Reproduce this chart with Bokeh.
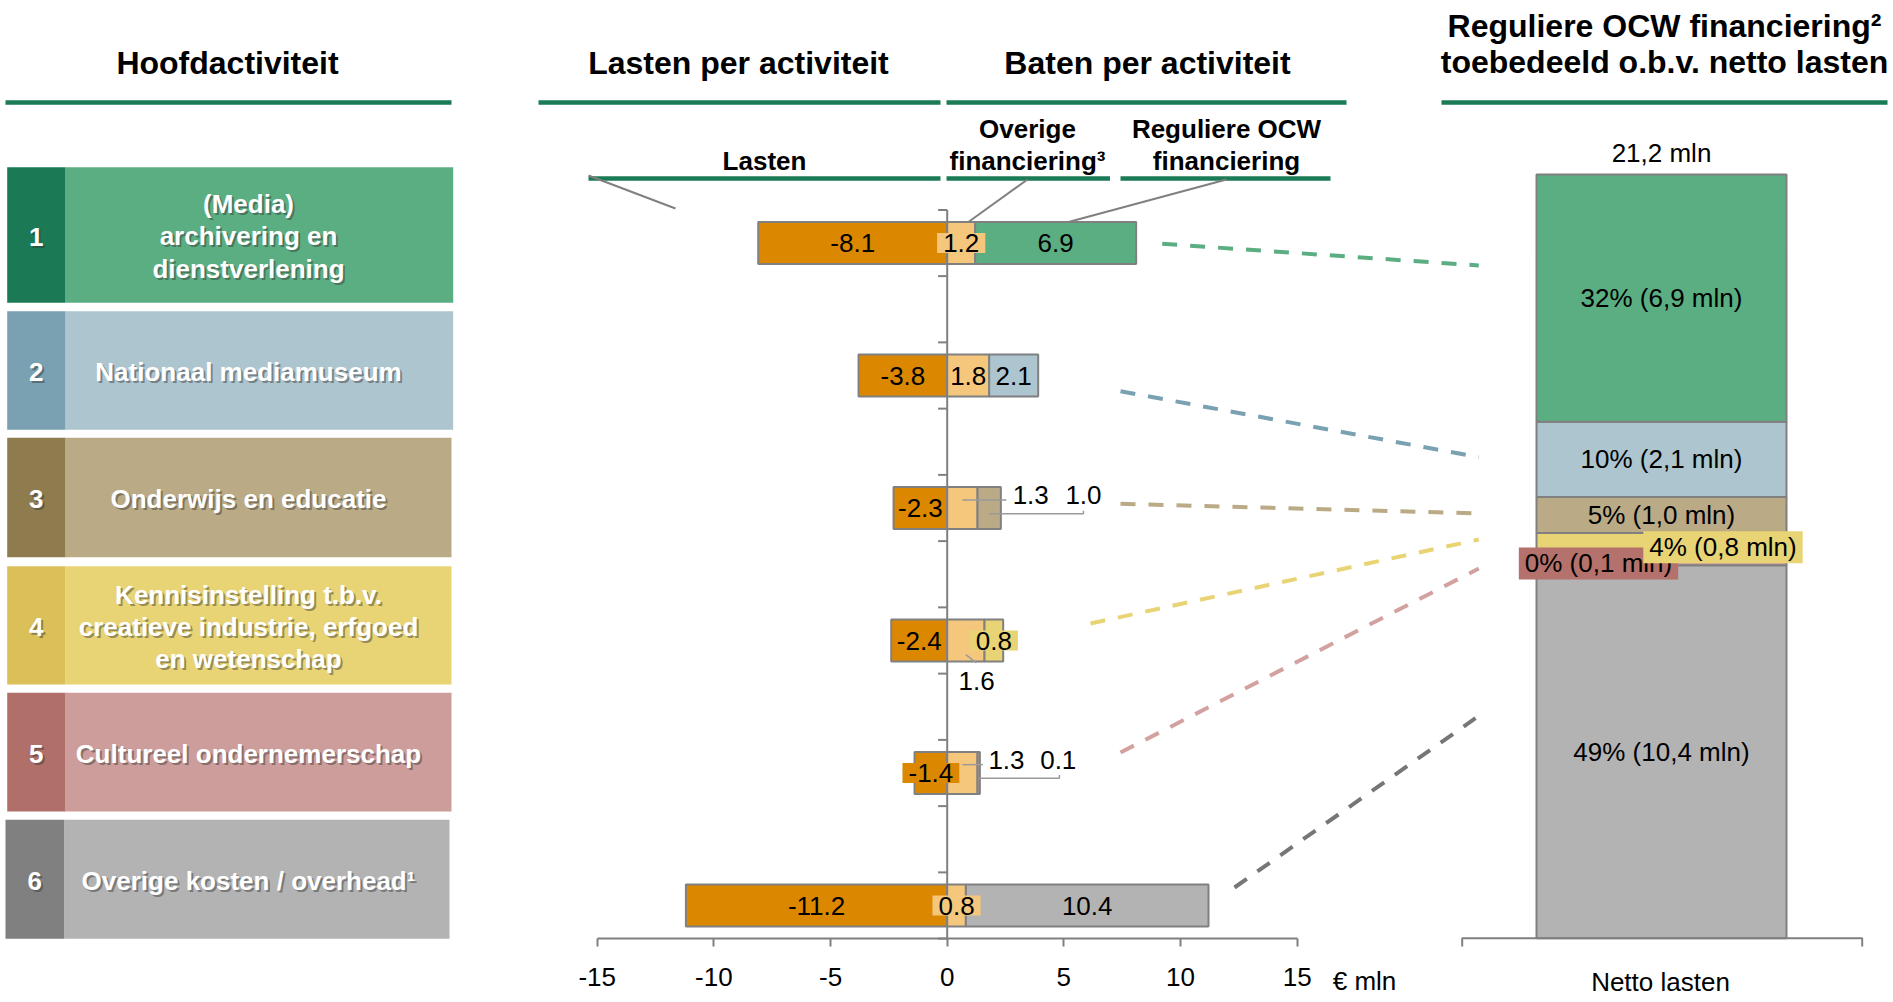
import numpy as np
from bokeh.plotting import figure
from bokeh.models import Range1d, FixedTicker, CustomJSTickFormatter
from bokeh.core.properties import value
from bokeh.embed import file_html
from bokeh.resources import INLINE

# ---------------- data ----------------
activity_nr = ["1", "2", "3", "4", "5", "6"]
activity_names = [
    "(Media)\narchivering en\ndienstverlening",
    "Nationaal mediamuseum",
    "Onderwijs en educatie",
    "Kennisinstelling t.b.v.\ncreatieve industrie, erfgoed\nen wetenschap",
    "Cultureel ondernemerschap",
    "Overige kosten / overhead\u00b9",
]
lasten = [-8.1, -3.8, -2.3, -2.4, -1.4, -11.2]          # Lasten per activiteit
overige_fin = [1.2, 1.8, 1.3, 1.6, 1.3, 0.8]            # Overige financiering
ocw_fin = [6.9, 2.1, 1.0, 0.8, 0.1, 10.4]               # Reguliere OCW financiering
ocw_pct = [32, 10, 5, 4, 0, 49]                         # share of netto lasten
ocw_total_label = "21,2 mln"
x_ticks = [-15, -10, -5, 0, 5, 10, 15]

# ---------------- styles ----------------
FONT = "Liberation Sans"
FV = value(FONT)
GREY = "#808080"
HDR = "#1B7B56"
ORANGE = "#DB8700"
LORANGE = "#F5C77D"
main_col = ["#5BAE82", "#ADC5CE", "#BAAB86", "#E8D475", "#CD9D9B", "#B3B3B3"]
dark_col = ["#1B7A55", "#79A1B1", "#8E7C4F", "#DBBF58", "#B07069", "#808080"]
dash_col = ["#5BAE82", "#79A1B1", "#BAAB86", "#E8D475", "#D3A19F", "#767676"]
PINK_LBL = "#B5716B"

W, H = 1890, 1000
PXU = 23.33                   # px per € mln
X0 = -946.7 / PXU
X1 = X0 + W / PXU
ROW0, ROWSTEP = 242.5, 132.5  # page y of row 1 centre, row spacing
R_TOP = 1 - ROW0 / ROWSTEP
R_BOT = 1 + (H - ROW0) / ROWSTEP
AXIS_Y = 937.7                # page y of the x axis line / stacked bar base
MLNU = 35.86                  # px per mln in the stacked bar

p = figure(width=W, height=H, x_range=Range1d(X0, X1), y_range=Range1d(R_BOT, R_TOP),
           output_backend="svg", toolbar_location=None, y_axis_location=None, title=None,
           min_border_left=0, min_border_right=0, min_border_top=0, min_border_bottom=0)
p.extra_x_ranges = {"px": Range1d(0, W)}
p.extra_y_ranges = {"px": Range1d(H, 0),
                    "mln": Range1d((AXIS_Y - H) / MLNU, AXIS_Y / MLNU)}
p.xgrid.visible = False
p.ygrid.visible = False
p.outline_line_color = None
p.background_fill_color = "white"
p.border_fill_color = "white"

ax = p.xaxis[0]
ax.fixed_location = 1 + (AXIS_Y - ROW0) / ROWSTEP
ax.ticker = FixedTicker(ticks=x_ticks)
ax.formatter = CustomJSTickFormatter(code="return tick.toString()")
ax.bounds = (-15, 15)
ax.axis_line_color = GREY
ax.axis_line_width = 2
ax.major_tick_line_color = GREY
ax.major_tick_line_width = 2
ax.major_tick_in = 0
ax.major_tick_out = 8
ax.minor_tick_line_color = None
ax.major_label_text_font = FONT
ax.major_label_text_font_size = "26px"
ax.major_label_text_color = "black"
ax.major_label_standoff = 22

PX = dict(x_range_name="px", y_range_name="px")


def txt(x, y, t, size="26px", bold=False, color="black", align="center", **kw):
    p.text(x=x, y=y, text=t, text_font=FV, text_font_size=size,
           text_font_style="bold" if bold else "normal", text_color=color,
           text_align=align, text_baseline="middle", **kw)


# ---------------- headers ----------------
txt([227, 738, 1147], [62, 62, 62],
    ["Hoofdactiviteit", "Lasten per activiteit", "Baten per activiteit"], size="32px", bold=True, **PX)
txt([1664, 1664], [25, 61], ["Reguliere OCW financiering\u00b2", "toebedeeld o.b.v. netto lasten"],
    size="32px", bold=True, **PX)
p.segment(x0=[5, 538, 946, 1441], x1=[451, 940, 1346, 1887], y0=[102] * 4, y1=[102] * 4,
          line_color=HDR, line_width=4.5, **PX)

txt([764, 1027, 1027, 1226, 1226], [160, 128, 160, 128, 160],
    ["Lasten", "Overige", "financiering\u00b3", "Reguliere OCW", "financiering"], bold=True, **PX)
p.segment(x0=[588, 946, 1120], x1=[940, 1109.5, 1330], y0=[178] * 3, y1=[178] * 3,
          line_color=HDR, line_width=4.5, **PX)
p.segment(x0=[588, 1027, 1226], y0=[175, 179, 179], x1=[675, 963, 1055], y1=[208, 225, 225],
          line_color=GREY, line_width=2, **PX)

# ---------------- left panel: activity boxes ----------------
box_top = [166.7, 310.7, 437.3, 565.7, 692.3, 819.3]
box_bot = [302.3, 429.3, 556.7, 684.0, 811.0, 938.3]
box_l = [6.7, 6.7, 6.7, 6.7, 6.7, 5.0]
box_m = [65.0, 65.0, 65.0, 65.0, 65.0, 63.7]
box_r = [452.7, 452.7, 451.0, 451.0, 451.0, 449.0]
p.quad(left=box_m, right=box_r, top=box_top, bottom=box_bot, fill_color=main_col, line_color=None, **PX)
p.quad(left=box_l, right=box_m, top=box_top, bottom=box_bot, fill_color=dark_col, line_color=None, **PX)
cy = [(a + b) / 2 + 1.5 for a, b in zip(box_top, box_bot)]
cxn = [(a + b) / 2 for a, b in zip(box_l, box_m)]
for dx, col, al in [(2, "#303030", 0.45), (0, "white", 1.0)]:
    txt(cxn, cy, activity_nr, bold=True, color=col, text_alpha=al, x_offset=dx, y_offset=dx, **PX)
    txt([248] * 6, cy, activity_names, bold=True, color=col, text_alpha=al, x_offset=dx, y_offset=dx,
        text_line_height=1.07, **PX)

# ---------------- middle: bars ----------------
rows = np.arange(1, 7)
ov = np.array(overige_fin)
oc = np.array(ocw_fin)
la = np.array(lasten)
BAR_H = 0.317
p.segment(x0=[0], x1=[0], y0=[0.75], y1=[6.25], line_color=GREY, line_width=2)
tick_y = np.concatenate([rows - 0.25, rows + 0.25])
p.segment(x0=0, x1=-0.39, y0=tick_y, y1=tick_y, line_color=GREY, line_width=2)

p.hbar(y=rows, left=la, right=0, height=BAR_H, fill_color=ORANGE, line_color=GREY, line_width=2)
p.hbar(y=rows, left=0, right=ov, height=BAR_H, fill_color=LORANGE, line_color=GREY, line_width=2)
p.hbar(y=rows, left=ov, right=ov + oc, height=BAR_H, fill_color=main_col, line_color=GREY, line_width=2)

fmt = lambda v: f"{v:.1f}"
# labels inside the segments
in_x, in_y, in_t = [], [], []
for i in range(6):
    if i != 4:
        in_x.append(la[i] / 2); in_y.append(rows[i]); in_t.append(fmt(la[i]))
    if i in (1,):
        in_x.append(ov[i] / 2); in_y.append(rows[i]); in_t.append(fmt(ov[i]))
    if i in (0, 1, 5):
        in_x.append(ov[i] + oc[i] / 2); in_y.append(rows[i]); in_t.append(fmt(oc[i]))
txt(in_x, in_y, in_t)

PAD = dict(left=6, right=6, top=1, bottom=1)
# labels with a coloured box
txt([ov[0] / 2, ov[5] / 2], [rows[0], rows[5]], [fmt(ov[0]), fmt(ov[5])],
    background_fill_color=LORANGE, padding=PAD)
txt([ov[3] + oc[3] / 2], [rows[3]], [fmt(oc[3])], background_fill_color=main_col[3], padding=PAD)
txt([la[4] / 2], [rows[4]], [fmt(la[4])], background_fill_color=ORANGE, padding=PAD)

# labels outside the bars with leader lines
out_x = [3.58, 5.84, 1.26, 2.54, 4.76]
out_dy = [-0.097, -0.097, 0.309, -0.098, -0.098]
out_rows = [2, 2, 3, 4, 4]
out_val = [ov[2], oc[2], ov[3], ov[4], oc[4]]
txt(out_x, [rows[r] + d for r, d in zip(out_rows, out_dy)], [fmt(v) for v in out_val])
lead_xs = [
    [ov[2] / 2, 2.54],
    [ov[2] + oc[2] / 2, 5.84, 5.84],
    [ov[3] / 2, 1.24],
    [ov[4] / 2, 1.53],
    [ov[4] + oc[4] / 2, 4.81, 4.81],
]
lead_ys = [
    [rows[2] - 0.06] * 2,
    [rows[2] + 0.043, rows[2] + 0.043, rows[2] + 0.02],
    [rows[3] + 0.106, rows[3] + 0.168],
    [rows[4] - 0.063] * 2,
    [rows[4] + 0.04, rows[4] + 0.04, rows[4] + 0.015],
]
p.multi_line(xs=lead_xs, ys=lead_ys, line_color="#9A9A9A", line_width=1.5)

# ---------------- connectors ----------------
con_x0 = [1161.7, 1120, 1120, 1090, 1120, 1234]
con_y0 = [243.3, 390.7, 503.3, 623, 752, 887]
con_x1 = [1478.3, 1478.3, 1471.7, 1478.3, 1478.3, 1475]
con_y1 = [265, 456.7, 512.7, 539, 568, 717.7]
for i in range(6):
    p.line(x=[con_x0[i], con_x1[i]], y=[con_y0[i], con_y1[i]], line_color=dash_col[i],
           line_width=4, line_dash="15 13", **PX)

# ---------------- right: stacked OCW bar ----------------
STACK_X, STACK_W = 1661, 250
order = [5, 4, 3, 2, 1, 0]   # bottom to top
vals = np.array([ocw_fin[i] for i in order])
tops = np.cumsum(vals)
bots = tops - vals
p.vbar(x=STACK_X, width=STACK_W, bottom=bots, top=tops, fill_color=[main_col[i] for i in order],
       line_color=GREY, line_width=2, x_range_name="px", y_range_name="mln")
MLN = dict(x_range_name="px", y_range_name="mln")
mid = (tops + bots) / 2
lbl = [f"{ocw_pct[i]}% ({ocw_fin[i]:.1f} mln)".replace(".", ",") for i in order]
# plain labels: overhead, onderwijs, museum, media
for k in (0, 3, 4, 5):
    txt([STACK_X], [mid[k]], [lbl[k]], **MLN)
txt([STACK_X - 63], [mid[1]], [lbl[1]], background_fill_color=PINK_LBL, padding=PAD, **MLN)
txt([STACK_X + 61.5], [mid[2]], [lbl[2]], background_fill_color=main_col[3], padding=PAD, **MLN)
txt([STACK_X], [tops[-1] + 0.6], [ocw_total_label], **MLN)

# baseline of the right panel
p.multi_line(xs=[[1461.7, 1461.7, 1861.7, 1861.7]], ys=[[946, AXIS_Y, AXIS_Y, 946]],
             line_color=GREY, line_width=2, **PX)

txt([1660, 1364], [981.7, 980], ["Netto lasten", "\u20ac mln"], **PX)

open("out.html", "w").write(file_html(p, INLINE))
